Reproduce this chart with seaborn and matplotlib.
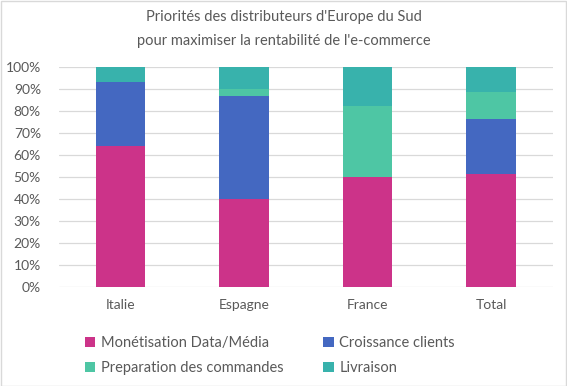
import numpy as np
import pandas as pd
import seaborn as sns
import matplotlib.pyplot as plt
from matplotlib.patches import Patch, Rectangle

# data (share of respondents, %)
pays = ["Italie", "Espagne", "France", "Total"]
monetisation = [64, 40, 50, 51.4]
croissance = [29, 47, 0, 25]
preparation = [0, 3, 32.4, 12.1]
livraison = [7, 10, 17.6, 11.5]

series = ["Monétisation Data/Média", "Croissance clients",
          "Preparation des commandes", "Livraison"]
couleurs = ["#CC3389", "#4468C1", "#4EC6A4", "#38B2AC"]

sns.set_style("white")
plt.rcParams['font.family'] = ['Lato', 'DejaVu Sans']
gris = "#595959"

fig = plt.figure(figsize=(5.67, 3.86), dpi=100)
ax = fig.add_axes([0.104, 0.2565, 0.871, 0.57])

valeurs = np.array([monetisation, croissance, preparation, livraison])
cumul = np.cumsum(valeurs, axis=0)

# stacked bars: draw the tallest cumulative layer first
for i in range(len(series) - 1, -1, -1):
    df = pd.DataFrame({"pays": pays, "val": cumul[i] / 100})
    sns.barplot(data=df, x="pays", y="val", color=couleurs[i], width=0.4,
                saturation=1, linewidth=0, ax=ax, zorder=2)

ax.set_ylim(0, 1)
ax.set_xlim(-0.5, 3.5)
ax.set_yticks(np.arange(0, 1.01, 0.1))
ax.set_yticklabels([f"{int(round(t * 100))}%" for t in np.arange(0, 1.01, 0.1)])
ax.yaxis.grid(True, color="#D9D9D9", linewidth=0.9, zorder=0)
ax.set_axisbelow(True)
for s in ax.spines.values():
    s.set_visible(False)
ax.tick_params(axis="both", length=0, labelsize=10, colors=gris)
ax.tick_params(axis="y", pad=13)
ax.tick_params(axis="x", pad=9)
ax.set_xlabel("")
ax.set_ylabel("")

fig.text(0.5, 0.955, "Priorités des distributeurs d'Europe du Sud",
         ha="center", va="center", fontsize=10.5, color=gris)
fig.text(0.5, 0.895, "pour maximiser la rentabilité de l'e-commerce",
         ha="center", va="center", fontsize=10.5, color=gris)

# legend filled row by row
ordre = [0, 2, 1, 3]
handles = [Patch(facecolor=couleurs[k], edgecolor="none") for k in ordre]
labels = [series[k] for k in ordre]
fig.legend(handles, labels, loc="upper left", bbox_to_anchor=(0.139, 0.145),
           ncol=2, frameon=False, fontsize=10.5, labelcolor=gris,
           handlelength=0.7, handleheight=0.7, handletextpad=0.4,
           columnspacing=2.75, labelspacing=0.75, borderaxespad=0)

fig.patches.append(Rectangle((0.001, 0.001), 0.997, 0.997, transform=fig.transFigure,
                             fill=False, edgecolor="#D9D9D9", linewidth=1))

fig.savefig("out.png", dpi=100)
